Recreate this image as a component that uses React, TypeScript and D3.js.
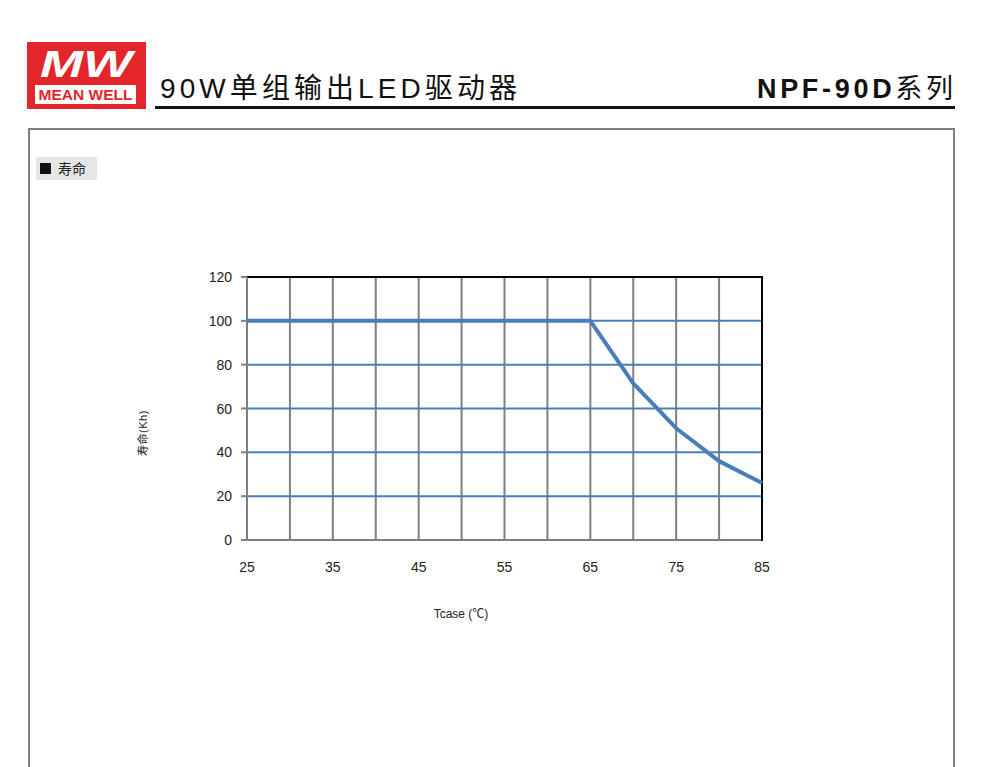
import React from "react";
import * as d3 from "d3";

const xTicks = [25, 35, 45, 55, 65, 75, 85];
const xGrid = [25, 30, 35, 40, 45, 50, 55, 60, 65, 70, 75, 80, 85];
const yTicks = [0, 20, 40, 60, 80, 100, 120];
const tcase = [25, 30, 35, 40, 45, 50, 55, 60, 65, 70, 75, 80, 85];
const life = [100, 100, 100, 100, 100, 100, 100, 100, 100, 71.5, 51, 36, 26];

const W = 1000;
const H = 767;
const left = 247, right = 762, top = 277, bottom = 540;

export default function App() {
  const x = d3.scaleLinear().domain([25, 85]).range([left, right]);
  const y = d3.scaleLinear().domain([0, 120]).range([bottom, top]);
  const pts = tcase.map((t, i) => [t, life[i]] as [number, number]);
  const line = d3.line<[number, number]>().x((d) => x(d[0])).y((d) => y(d[1]));
  const font = "'Liberation Sans', 'Noto Sans CJK SC', sans-serif";
  const cjk = "'Noto Sans CJK SC', sans-serif";
  return (
    <svg width={W} height={H} style={{ position: "absolute", left: 0, top: 0, background: "#fff" }}>
      {/* Logo */}
      <rect x={27} y={42} width={119} height={67} fill="#e2262c" />
      <text x={86} y={77} textAnchor="middle" fill="#fff" fontFamily={font} fontSize={36} fontStyle="italic" fontWeight="bold" textLength={92} lengthAdjust="spacingAndGlyphs">MW</text>
      <rect x={35} y={85} width={101} height={19} fill="#fff" />
      <text x={85.5} y={100} textAnchor="middle" fill="#e2262c" fontFamily={font} fontSize={15} fontWeight="bold" textLength={94} lengthAdjust="spacingAndGlyphs">MEAN WELL</text>

      {/* Title */}
      <text x={160} y={98} fontFamily={font} fontSize={28} fill="#111" textLength={357} lengthAdjust="spacing">90W单组输出LED驱动器</text>
      <text x={757} y={98} fontFamily={font} fontSize={27} fontWeight="bold" fill="#111" textLength={196} lengthAdjust="spacing">
        NPF-90D<tspan fontWeight="normal">系列</tspan>
      </text>
      <line x1={155} x2={955} y1={107.5} y2={107.5} stroke="#111" strokeWidth={3} />

      {/* Frame */}
      <rect x={29} y={129} width={925} height={660} fill="none" stroke="#808080" strokeWidth={2} />

      {/* Section label */}
      <rect x={36} y={157} width={61} height={23} fill="#e6e6e6" />
      <rect x={40} y={163} width={11} height={11} fill="#111" />
      <text x={58} y={174} fontFamily={cjk} fontSize={14} fill="#222">寿命</text>

      {/* Vertical grid */}
      {xGrid.map((v) => (
        <line key={"vx" + v} x1={x(v)} x2={x(v)} y1={top} y2={bottom} stroke={v === 85 ? "#000" : "#7f7f7f"} strokeWidth={2} />
      ))}
      {/* Horizontal grid */}
      {yTicks.map((v) => (
        <line key={"hy" + v} x1={left} x2={right} y1={y(v)} y2={y(v)}
          stroke={v === 120 ? "#000" : v === 0 ? "#7f7f7f" : "#4a7ebb"} strokeWidth={2} />
      ))}
      {/* y tick marks */}
      {yTicks.map((v) => (
        <line key={"yt" + v} x1={left - 6} x2={left} y1={y(v)} y2={y(v)} stroke="#7f7f7f" strokeWidth={2} />
      ))}
      <line x1={left} x2={left} y1={top} y2={bottom} stroke="#7f7f7f" strokeWidth={2} />
      <line x1={right} x2={right} y1={top - 1} y2={bottom + 1} stroke="#000" strokeWidth={2} />

      {/* Data line */}
      <path d={line(pts) || ""} fill="none" stroke="#4a7ebb" strokeWidth={4} strokeLinejoin="round" />

      {/* Tick labels */}
      {yTicks.map((v) => (
        <text key={"yl" + v} x={232} y={y(v) + 5} textAnchor="end" fontFamily={font} fontSize={14} fill="#222">{v}</text>
      ))}
      {xTicks.map((v) => (
        <text key={"xl" + v} x={x(v)} y={572} textAnchor="middle" fontFamily={font} fontSize={14} fill="#222">{v}</text>
      ))}

      {/* Axis titles */}
      <text x={461} y={618} textAnchor="middle" fontFamily={font} fontSize={12} fill="#222">Tcase (℃)</text>
      <text transform="translate(147,433) rotate(-90)" textAnchor="middle" fontFamily={font} fontSize={11} fill="#222" letterSpacing={0.5}>寿命(Kh)</text>
    </svg>
  );
}
